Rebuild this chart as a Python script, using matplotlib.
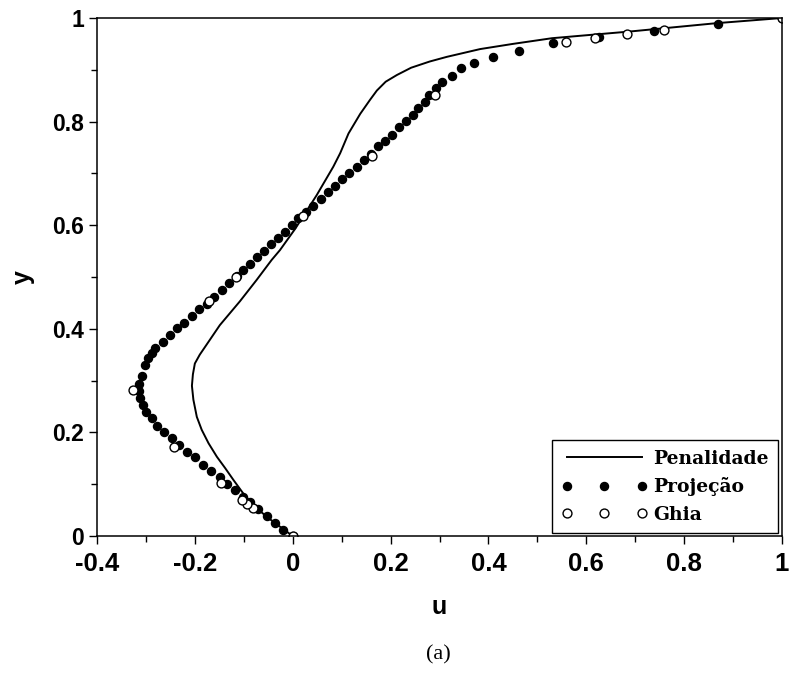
import matplotlib
matplotlib.use("Agg")
import matplotlib.pyplot as plt
from matplotlib.ticker import MultipleLocator

# Penalidade (solid line)
pen_u = [0.000, -0.026, -0.053, -0.081, -0.101, -0.121, -0.138, -0.155, -0.172,
         -0.186, -0.196, -0.203, -0.206, -0.204, -0.200, -0.190, -0.172, -0.149,
         -0.108, -0.074, -0.043, -0.026, 0.005, 0.049, 0.083, 0.097, 0.114,
         0.138, 0.158, 0.172, 0.190, 0.213, 0.242, 0.280, 0.315, 0.383, 0.450,
         0.530, 0.690, 0.866, 1.000]
pen_y = [0.000, 0.018, 0.037, 0.060, 0.082, 0.108, 0.131, 0.153, 0.179,
         0.205, 0.230, 0.263, 0.290, 0.312, 0.333, 0.350, 0.375, 0.407,
         0.453, 0.494, 0.533, 0.552, 0.593, 0.658, 0.713, 0.739, 0.777,
         0.815, 0.842, 0.860, 0.877, 0.890, 0.904, 0.916, 0.925, 0.940, 0.950,
         0.961, 0.974, 0.990, 1.000]

# Projecao (filled dots)
proj_u = [0.000, -0.019, -0.036, -0.053, -0.070, -0.087, -0.102, -0.118, -0.134,
          -0.149, -0.168, -0.184, -0.200, -0.217, -0.232, -0.247, -0.263, -0.277,
          -0.288, -0.300, -0.307, -0.312, -0.315, -0.314, -0.309, -0.302, -0.295,
          -0.288, -0.281, -0.266, -0.251, -0.237, -0.222, -0.206, -0.191, -0.176,
          -0.161, -0.145, -0.130, -0.114, -0.102, -0.087, -0.072, -0.059, -0.045,
          -0.030, -0.016, -0.002, 0.011, 0.027, 0.042, 0.057, 0.073, 0.086,
          0.101, 0.116, 0.131, 0.146, 0.161, 0.175, 0.189, 0.202, 0.218,
          0.232, 0.245, 0.257, 0.270, 0.279, 0.293, 0.306, 0.325, 0.343,
          0.371, 0.410, 0.462, 0.532, 0.625, 0.738, 0.869, 1.000]
proj_y = [0.000, 0.012, 0.026, 0.039, 0.053, 0.066, 0.076, 0.089, 0.100,
          0.113, 0.126, 0.137, 0.152, 0.163, 0.176, 0.189, 0.200, 0.212,
          0.227, 0.240, 0.253, 0.266, 0.279, 0.293, 0.308, 0.330, 0.343,
          0.353, 0.362, 0.375, 0.388, 0.401, 0.412, 0.425, 0.438, 0.448,
          0.462, 0.475, 0.488, 0.501, 0.514, 0.526, 0.538, 0.550, 0.563,
          0.576, 0.587, 0.600, 0.613, 0.626, 0.637, 0.650, 0.665, 0.676,
          0.689, 0.701, 0.713, 0.725, 0.738, 0.752, 0.763, 0.774, 0.790,
          0.802, 0.813, 0.827, 0.838, 0.851, 0.865, 0.877, 0.888, 0.903,
          0.914, 0.925, 0.937, 0.952, 0.963, 0.975, 0.988, 1.000]

# Ghia (open circles)
ghia_u = [0.000, -0.082, -0.093, -0.103, -0.146, -0.243, -0.327, -0.171,
          -0.115, 0.021, 0.163, 0.291, 0.559, 0.618, 0.684, 0.758, 1.000]
ghia_y = [0.000, 0.0547, 0.0625, 0.0703, 0.1016, 0.1719, 0.2813, 0.4531,
          0.500, 0.6172, 0.7344, 0.8516, 0.9531, 0.9609, 0.9688, 0.9766, 1.000]

fig = plt.figure(figsize=(7.92, 6.73), dpi=100)
ax = fig.add_axes([97 / 792, 137 / 673, 685 / 792, 518 / 673])

ax.plot(pen_u, pen_y, color="black", lw=1.4, label="Penalidade")
ax.plot(proj_u, proj_y, ls="none", marker="o", ms=5.8, color="black",
        label="Projeção")
ax.plot(ghia_u, ghia_y, ls="none", marker="o", ms=6.4, mfc="white",
        mec="black", mew=1.0, label="Ghia")

ax.set_xlim(-0.4, 1.0)
ax.set_ylim(0, 1.0)
ax.xaxis.set_minor_locator(MultipleLocator(0.1))
ax.yaxis.set_minor_locator(MultipleLocator(0.1))
ax.set_xticks([-0.4, -0.2, 0, 0.2, 0.4, 0.6, 0.8, 1.0],
              ["-0.4", "-0.2", "0", "0.2", "0.4", "0.6", "0.8", "1"])
ax.set_yticks([0, 0.2, 0.4, 0.6, 0.8, 1.0],
              ["0", "0.2", "0.4", "0.6", "0.8", "1"])
ax.tick_params(which="major", direction="out", length=5.5, width=1.0,
               top=False, right=False)
ax.tick_params(which="minor", direction="out", length=4, width=1.0,
               top=False, right=False)
for lab in ax.get_xticklabels():
    lab.set_fontfamily("Liberation Sans")
    lab.set_fontweight("bold")
    lab.set_fontsize(18.5)
for lab in ax.get_yticklabels():
    lab.set_fontfamily("Liberation Sans")
    lab.set_fontweight("bold")
    lab.set_fontsize(16.5)
ax.tick_params(axis="x", pad=6)
ax.tick_params(axis="y", pad=4)
for sp in ax.spines.values():
    sp.set_linewidth(1.1)

ax.set_xlabel("u", fontsize=18, family="Liberation Sans", weight="bold",
              labelpad=14)
ax.set_ylabel("y", fontsize=18, family="Liberation Sans", weight="bold",
              labelpad=12)

leg = ax.legend(loc="lower right", bbox_to_anchor=(0.994, 0.006),
                borderaxespad=0, numpoints=3, handlelength=4.6,
                fancybox=False, edgecolor="black", framealpha=1,
                prop={"family": "DejaVu Serif", "weight": "bold", "size": 13.5},
                labelspacing=0.5, handletextpad=0.3, borderpad=0.5)
leg.get_frame().set_linewidth(1.0)

fig.text(438 / 792, 1 - 655 / 673, "(a)", family="Liberation Serif",
         fontsize=16, ha="center", va="center")

fig.savefig("out.png", dpi=100)
